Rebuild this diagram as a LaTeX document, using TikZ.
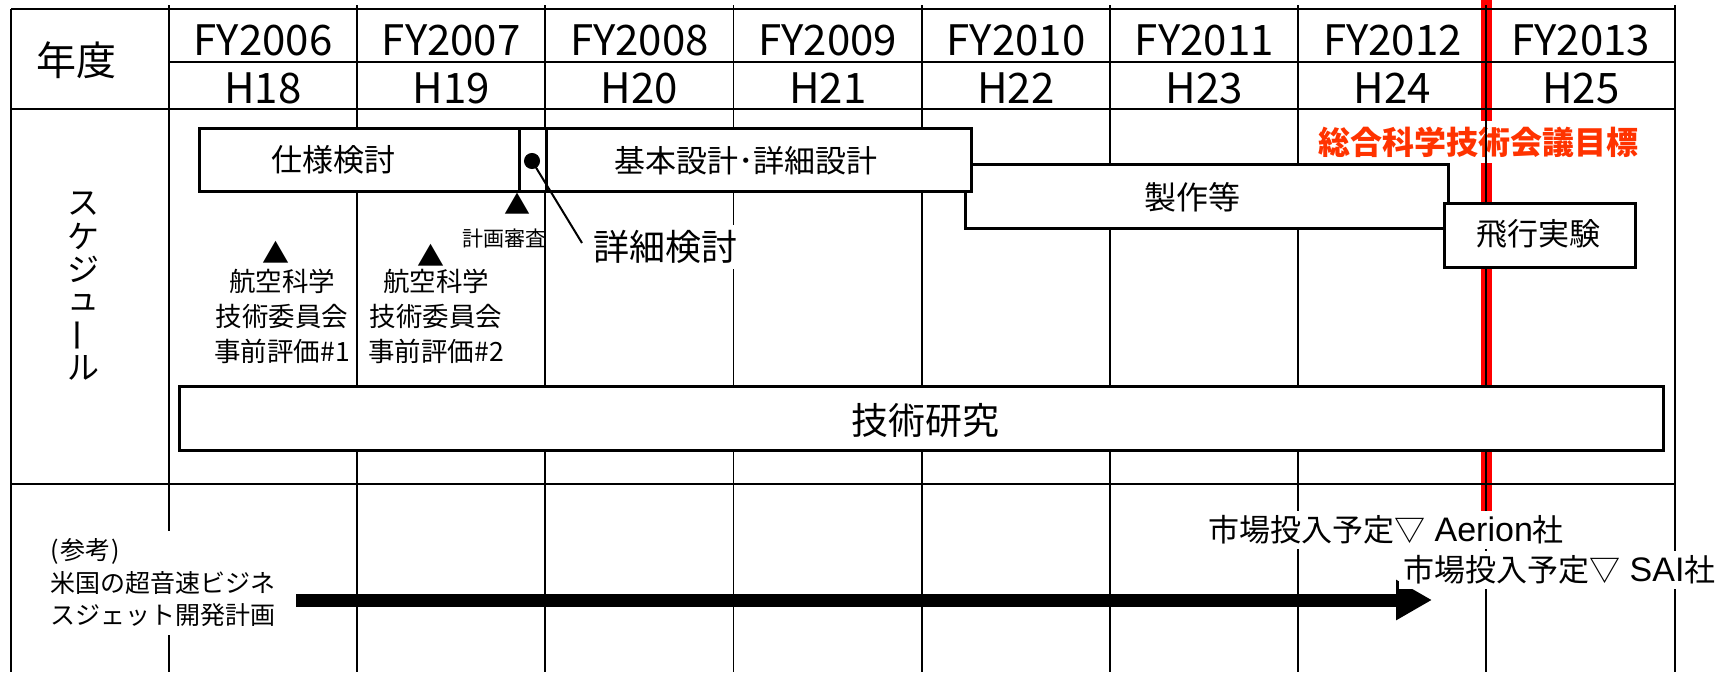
\documentclass[tikz,border=0pt]{standalone}
\usepackage{fontspec}
\setmainfont{Noto Sans CJK JP}
\newfontfamily\latfont{Liberation Sans}
\usetikzlibrary{arrows.meta}
\definecolor{goalred}{RGB}{255,51,0}
\definecolor{linered}{RGB}{255,0,0}
\newcommand\fsz[1]{\fontsize{#1}{#1}\selectfont}
\begin{document}
\begin{tikzpicture}[x=1pt,y=-1pt,
  gridline/.style={line width=1.5pt, black},
  bar/.style={draw=black, line width=2.6pt, fill=white, inner sep=0pt, anchor=north west},
  txt/.style={inner sep=0pt, text=black},
  hdr/.style={txt, font=\fsz{42}},
  wtxt/.style={txt, fill=white, inner xsep=4pt, inner ysep=5pt},
]
\path[use as bounding box, fill=white] (0,0) rectangle (1731,672);

% red target line and its label
\coordinate (redtop) at (1486,0);
\coordinate (redbot) at (1486,520);
\draw[linered, line width=11pt] (redtop) -- (redbot);
\node[txt, fill=white, inner xsep=2pt, inner ysep=6pt, text=goalred, font=\fsz{32}\bfseries] (goal) at (1478,142) {総合科学技術会議目標};

% grid
\draw[gridline] (11,9) -- (1675,9);
\draw[gridline] (169,62) -- (1675,62);
\draw[gridline] (11,109) -- (1675,109);
\draw[gridline] (11,484) -- (1675,484);
\draw[gridline] (11,9) -- (11,672);
\foreach \x in {169,357,545,733.5,922,1110,1298,1486,1675}
  \draw[gridline] (\x,5) -- (\x,672);

% header
\node[txt, font=\fsz{40}] (nendo) at (76,60) {年度};
\foreach \i/\fy/\h in {0/2006/18,1/2007/19,2/2008/20,3/2009/21,4/2010/22,5/2011/23,6/2012/24,7/2013/25}{
  \node[hdr] (fy\i) at ({263+188.25*\i},40) {FY\fy};
  \node[hdr] (h\i) at ({263+188.25*\i},88) {H\h};
}

% vertical label
\foreach \c [count=\k] in {ス,ケ,ジ,ュ}
  \node[txt, font=\fsz{32}] (s\k) at (83,{204+32.8*(\k-1)}) {\c};
\node[txt, font=\fsz{34}, rotate=90] (s5) at (83,{204+32.8*4}) {ー};
\node[txt, font=\fsz{32}] (s6) at (83,{204+32.8*5}) {ル};

% schedule bars
\node[bar, minimum width=483pt, minimum height=64pt] (seisaku) at (964,163) {};
\node[txt, font=\fsz{32}] (seisakuT) at (1192,197) {製作等};
\node[bar, minimum width=425pt, minimum height=63pt] (kihon) at (545,127) {};
\node[txt, font=\fsz{31}] (kihonT) at (746,161) {基本設計･詳細設計};
\node[bar, minimum width=320pt, minimum height=63pt] (shiyo) at (198,127) {};
\node[txt, font=\fsz{31}] (shiyoT) at (333,160) {仕様検討};
\node[bar, minimum width=27pt, minimum height=63pt] (small) at (518,127) {};
\node[bar, minimum width=191pt, minimum height=64pt] (hiko) at (1443,202) {};
\node[txt, font=\fsz{31}] (hikoT) at (1538,234) {飛行実験};
\node[bar, line width=3pt, minimum width=1484pt, minimum height=64pt] (gijutsu) at (178,385) {};
\node[txt, font=\fsz{37}] (gijutsuT) at (925,420) {技術研究};

% detail study callout
\node[circle, fill=black, draw=black, line width=1pt, inner sep=0pt, minimum size=15pt] (dot) at (532,161) {};
\coordinate (leadEnd) at (582,243);
\draw[line width=2pt] (dot.center) -- (leadEnd);
\node[wtxt, font=\fsz{36}, anchor=west] (shosai) at (589,247) {詳細検討};

% milestones
\node[txt, font=\fsz{26}] (tri0) at (517,204) {▲};
\node[txt, font=\fsz{21}] (keikaku) at (504,239) {計画審査};
\node[txt, font=\fsz{27}] (tri1) at (276,252) {▲};
\node[txt, font=\fontsize{26.5}{35}\selectfont, align=center] (hyoka1) at (282,316) {航空科学\\技術委員会\\事前評価\#1};
\node[txt, font=\fsz{27}] (tri2) at (431,255) {▲};
\node[txt, font=\fontsize{26.5}{35}\selectfont, align=center] (hyoka2) at (436,316) {航空科学\\技術委員会\\事前評価\#2};

% reference section
\node[wtxt, font=\fontsize{25}{32.5}\selectfont, align=left, inner ysep=8pt] (ref) at (163,583) {(\kern1.5pt参考\kern1.5pt)\\米国の超音速ビジネ\\スジェット開発計画};
\coordinate (arrS) at (296,600);
\coordinate (arrE) at (1432,600);
\draw[line width=13pt, -{Triangle[length=36pt,width=38pt]}] (arrS) -- (arrE);
\node[wtxt, font=\fsz{31}, anchor=west] (aerion) at (1204,530) {市場投入予定▽{\latfont\fontsize{34}{34}\selectfont{} Aerion}社};
\node[wtxt, font=\fsz{31}, anchor=west] (sai) at (1399,570) {市場投入予定▽{\latfont\fontsize{34}{34}\selectfont{} SAI}社};
\end{tikzpicture}
\end{document}
